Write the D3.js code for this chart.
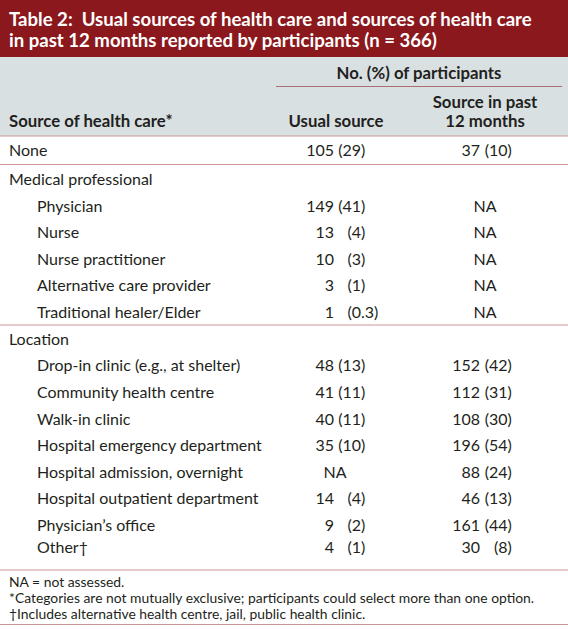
<!DOCTYPE html>
<html>
<head>
<meta charset="utf-8">
<script src="https://cdn.jsdelivr.net/npm/d3@7"></script>
<style>
  html, body { margin: 0; padding: 0; background: #ffffff; }
  svg { display: block; }
  text { white-space: pre; }
</style>
</head>
<body>
<div id="chart"></div>
<script>
// ---------------- DATA ----------------
const titleLines = [
  "Table 2:  Usual sources of health care and sources of health care",
  "in past 12 months reported by participants (n = 366)"
];
const spannerLabel = "No. (%) of participants";
const stubHeader = "Source of health care*";
const col1Header = ["Usual source"];
const col2Header = ["Source in past", "12 months"];

// row labels; level 0 = section / top level, level 1 = indented
const categories = [
  "None",
  "Medical professional",
  "Physician",
  "Nurse",
  "Nurse practitioner",
  "Alternative care provider",
  "Traditional healer/Elder",
  "Location",
  "Drop-in clinic (e.g., at shelter)",
  "Community health centre",
  "Walk-in clinic",
  "Hospital emergency department",
  "Hospital admission, overnight",
  "Hospital outpatient department",
  "Physician\u2019s office",
  "Other\u2020"
];
const levels = [0, 0, 1, 1, 1, 1, 1, 0, 1, 1, 1, 1, 1, 1, 1, 1];
const isSection = [false, true, false, false, false, false, false, true, false, false, false, false, false, false, false, false];

// "NA" = null ; section rows = undefined
const usualCount = [105, undefined, 149, 13, 10, 3, 1, undefined, 48, 41, 40, 35, null, 14, 9, 4];
const usualPct   = ["29", undefined, "41", "4", "3", "1", "0.3", undefined, "13", "11", "11", "10", null, "4", "2", "1"];
const pastCount  = [37, undefined, null, null, null, null, null, undefined, 152, 112, 108, 196, 88, 46, 161, 30];
const pastPct    = ["10", undefined, null, null, null, null, null, undefined, "42", "31", "30", "54", "24", "13", "44", "8"];

const footnotes = [
  "NA = not assessed.",
  "*Categories are not mutually exclusive; participants could select more than one option.",
  "\u2020Includes alternative health centre, jail, public health clinic."
];

// ---------------- LAYOUT ----------------
const W = 568, H = 629;
const FONT = "Lato, 'Open Sans', sans-serif";
const RED = "#8a181d";
const GREY = "#d9e0e2";
const RULE = "#cc9597";
const INK = "#231f20";

const svg = d3.select("#chart").append("svg")
  .attr("width", W).attr("height", H)
  .attr("viewBox", `0 0 ${W} ${H}`);

function fit(text, weight, target) {
  const t = svg.append("text")
    .attr("font-family", FONT).attr("font-weight", weight)
    .attr("font-size", 100).text(text);
  const w = t.node().getComputedTextLength();
  t.remove();
  return 100 * target / w;
}
const titleSize = fit(titleLines[0], 700, 523);
const headSize = fit(spannerLabel, 700, 165);
const bodySize = fit("Hospital emergency department", 400, 225);
const noteSize = fit(footnotes[1], 400, 526);

// row baseline scale (piecewise linear, index -> y)
const yRow = d3.scaleLinear()
  .domain([0, 1, 14, 15])
  .range([156, 185, 531, 553]);

// x positions
const xStub = [9, 37];
const col1 = { count: 334, pct: 361, na: 335, head: 336 };
const col2 = { count: 480, pct: 507.5, na: 485, head: 485 };

// ---------------- BACKGROUNDS ----------------
svg.append("rect").attr("x", 0).attr("y", 0).attr("width", W).attr("height", H).attr("fill", "#fff");
svg.append("rect").attr("x", 0).attr("y", 0).attr("width", W).attr("height", 57).attr("fill", RED);
svg.append("rect").attr("x", 0).attr("y", 57).attr("width", W).attr("height", 79).attr("fill", GREY);

// title
svg.append("g").selectAll("text").data(titleLines).join("text")
  .attr("x", 9)
  .attr("y", (d, i) => 26 + i * 21)
  .attr("font-family", FONT).attr("font-weight", 700)
  .attr("font-size", titleSize).attr("fill", "#ffffff")
  .text(d => d);

// header
const hdr = svg.append("g").attr("font-family", FONT).attr("font-weight", 700)
  .attr("font-size", headSize).attr("fill", INK);
hdr.append("text").attr("x", 419).attr("y", 79).attr("text-anchor", "middle").text(spannerLabel);
hdr.append("line").attr("x1", 276).attr("x2", 562).attr("y1", 86.5).attr("y2", 86.5)
  .attr("stroke", "#a86e70").attr("stroke-width", 1);
hdr.append("text").attr("x", 9).attr("y", 127).text(stubHeader);
hdr.selectAll(".h1").data(col1Header).join("text").attr("class", "h1")
  .attr("x", col1.head).attr("y", (d, i) => 127 - (col1Header.length - 1 - i) * 19)
  .attr("text-anchor", "middle").text(d => d);
hdr.selectAll(".h2").data(col2Header).join("text").attr("class", "h2")
  .attr("x", col2.head).attr("y", (d, i) => 127 - (col2Header.length - 1 - i) * 19)
  .attr("text-anchor", "middle").text(d => d);

// rules
const rules = [136, 164.5, 325, 570, 624.5];
svg.append("g").selectAll("line").data(rules).join("line")
  .attr("x1", 0).attr("x2", W).attr("y1", d => d).attr("y2", d => d)
  .attr("stroke", RULE).attr("stroke-width", 1);

// body rows
const body = svg.append("g").attr("font-family", FONT).attr("font-size", bodySize).attr("fill", INK);
const rows = body.selectAll("g.row").data(categories.map((c, i) => ({
  label: c, level: levels[i], section: isSection[i],
  c1: usualCount[i], p1: usualPct[i], c2: pastCount[i], p2: pastPct[i], i
}))).join("g").attr("class", "row")
  .attr("transform", d => `translate(0,${yRow(d.i)})`);

rows.append("text").attr("x", d => xStub[d.level]).text(d => d.label);

function cell(sel, countKey, pctKey, col) {
  sel.filter(d => !d.section).each(function(d) {
    const g = d3.select(this);
    const c = d[countKey], p = d[pctKey];
    if (c === null) {
      g.append("text").attr("x", col.na).attr("text-anchor", "middle").text("NA");
      return;
    }
    g.append("text").attr("x", col.count).attr("text-anchor", "end").text(String(c));
    const parts = String(p).split(".");
    g.append("text").attr("x", col.pct).attr("text-anchor", "end").text("(" + parts[0]);
    g.append("text").attr("x", col.pct).attr("text-anchor", "start")
      .text((parts.length > 1 ? "." + parts[1] : "") + ")");
  });
}
cell(rows, "c1", "p1", col1);
cell(rows, "c2", "p2", col2);

// footnotes
svg.append("g").selectAll("text").data(footnotes).join("text")
  .attr("x", 9).attr("y", (d, i) => 586.5 + i * 16)
  .attr("font-family", FONT).attr("font-size", noteSize).attr("fill", INK)
  .text(d => d);
</script>
</body>
</html>
